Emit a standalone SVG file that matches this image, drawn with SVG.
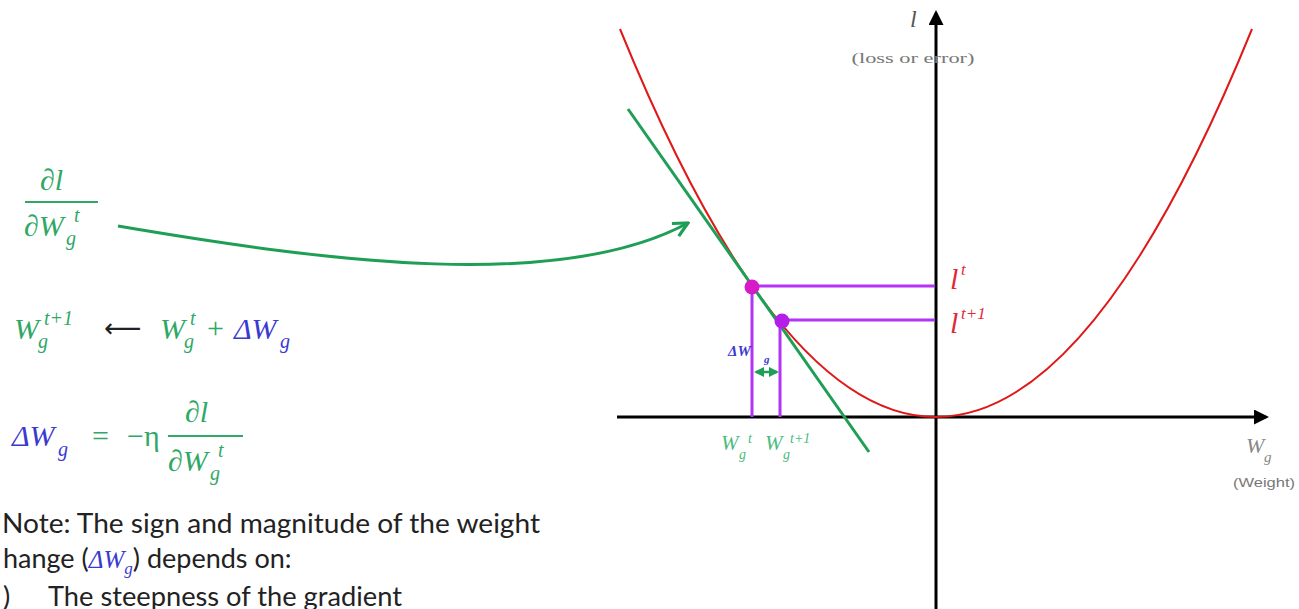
<svg xmlns="http://www.w3.org/2000/svg" width="1299" height="609" viewBox="0 0 1299 609">
<defs>
<style>
.m{font-family:"Liberation Serif","DejaVu Serif",serif;font-style:italic}
.g{fill:#2fa866}
.b{fill:#3a3ad0}
.bb{fill:#3a3ad0;font-weight:bold}
.r{fill:#e02a3a}
.ax{stroke:#000;stroke-width:3;fill:none}
.pl{stroke:#b533f5;stroke-width:3;fill:none}
.note{font-family:Lato,"Liberation Sans",sans-serif;font-size:27px;fill:#222}
</style>
<marker id="ah" viewBox="0 0 10 10" refX="8" refY="5" markerWidth="5" markerHeight="5" orient="auto"><path d="M0,0 L10,5 L0,10 Z" fill="#000"/></marker>
<marker id="ga" viewBox="0 0 10 10" refX="9" refY="5" markerWidth="6" markerHeight="6" orient="auto"><path d="M1,1 L9,5 L1,9" fill="none" stroke="#1f9e55" stroke-width="1.8"/></marker>
<marker id="gs" viewBox="0 0 10 10" refX="8" refY="5" markerWidth="4" markerHeight="4" orient="auto-start-reverse"><path d="M0,0 L10,5 L0,10 Z" fill="#1f9e55"/></marker>
</defs>
<rect width="1299" height="609" fill="#fff"/>

<g id="axes">
<line class="ax" x1="617" y1="417" x2="1266" y2="417" marker-end="url(#ah)"/>
<line class="ax" x1="936" y1="609" x2="936" y2="13" marker-end="url(#ah)"/>
<text class="m" x="910" y="27" font-size="24" fill="#555">l</text>
<text x="913" y="63" font-family="Liberation Serif,serif" font-size="15" fill="#777" text-anchor="middle" textLength="123" lengthAdjust="spacingAndGlyphs">(loss or error)</text>
<text class="m" x="1246" y="453" font-size="22" fill="#888">W</text>
<text class="m" x="1264" y="462" font-size="15" fill="#888">g</text>
<text x="1264" y="487" font-family="Liberation Sans,sans-serif" font-size="12" fill="#777" text-anchor="middle" textLength="62" lengthAdjust="spacingAndGlyphs">(Weight)</text>
</g>

<g id="curve">
<path d="M620,29 Q778,417 936,417 Q1094,417 1252,29" fill="none" stroke="#e01818" stroke-width="2"/>
</g>

<g id="tangent">
<line x1="628" y1="109" x2="869" y2="452" stroke="#1f9e55" stroke-width="3"/>
</g>

<g id="projections">
<line class="pl" x1="752" y1="287" x2="752" y2="417"/>
<line class="pl" x1="780" y1="321" x2="780" y2="417"/>
<line class="pl" x1="752" y1="286" x2="935" y2="286"/>
<line class="pl" x1="781" y1="320" x2="935" y2="320"/>
<circle cx="752" cy="287" r="7.5" fill="#d61ac8"/>
<circle cx="782" cy="321" r="7.5" fill="#b51ee8"/>
</g>

<g id="delta-label">
<text class="m bb" x="728" y="356" font-size="15">ΔW</text>
<text class="m bb" x="764" y="363" font-size="11">g</text>
<line x1="756" y1="372" x2="777" y2="372" stroke="#1f9e55" stroke-width="2.5" marker-start="url(#gs)" marker-end="url(#gs)"/>
</g>

<g id="l-labels">
<text class="m r" x="950" y="289" font-size="30">l</text>
<text class="m r" x="961" y="275" font-size="17">t</text>
<text class="m r" x="950" y="333" font-size="30">l</text>
<text class="m r" x="961" y="319" font-size="17">t+1</text>
</g>

<g id="w-labels">
<text class="m" x="721" y="450" font-size="21" fill="#4cbb7e">W</text>
<text class="m" x="739" y="459" font-size="14" fill="#4cbb7e">g</text>
<text class="m" x="748" y="443" font-size="14" fill="#4cbb7e">t</text>
<text class="m" x="765" y="450" font-size="21" fill="#4cbb7e">W</text>
<text class="m" x="783" y="459" font-size="14" fill="#4cbb7e">g</text>
<text class="m" x="790" y="443" font-size="14" fill="#4cbb7e">t+1</text>
</g>

<g id="gradient-frac">
<text class="m g" x="40" y="190" font-size="30">∂l</text>
<line x1="25" y1="202" x2="98" y2="202" stroke="#2fa866" stroke-width="2"/>
<text class="m g" x="24" y="236" font-size="30">∂W</text>
<text class="m g" x="66" y="245" font-size="20">g</text>
<text class="m g" x="74" y="222" font-size="20">t</text>
</g>

<g id="connectors">
<path d="M118,226 C330,262 560,292 688,223" fill="none" stroke="#1f9e55" stroke-width="3" marker-end="url(#ga)"/>
</g>

<g id="update-eq">
<text class="m g" x="14" y="339" font-size="30">W</text>
<text class="m g" x="38" y="348" font-size="20">g</text>
<text class="m g" x="44" y="325" font-size="20">t+1</text>
<text x="104" y="337" font-family="DejaVu Sans,sans-serif" font-size="26" fill="#222">⟵</text>
<text class="m g" x="160" y="339" font-size="30">W</text>
<text class="m g" x="184" y="348" font-size="20">g</text>
<text class="m g" x="190" y="325" font-size="20">t</text>
<text x="207" y="338" font-family="Liberation Serif,serif" font-size="30" class="g">+</text>
<text class="m b" x="234" y="339" font-size="30">ΔW</text>
<text class="m b" x="280" y="348" font-size="20">g</text>
</g>

<g id="delta-eq">
<text class="m b" x="12" y="446" font-size="30">ΔW</text>
<text class="m b" x="58" y="456" font-size="20">g</text>
<text x="92" y="446" font-family="Liberation Serif,serif" font-size="30" class="g">=</text>
<text x="127" y="446" font-family="Liberation Serif,serif" font-size="30" class="g">−η</text>
<text class="m g" x="185" y="422" font-size="30">∂l</text>
<line x1="168" y1="436" x2="243" y2="436" stroke="#2fa866" stroke-width="2"/>
<text class="m g" x="168" y="471" font-size="30">∂W</text>
<text class="m g" x="210" y="480" font-size="20">g</text>
<text class="m g" x="218" y="457" font-size="20">t</text>
</g>

<g id="note">
<text class="note" x="2" y="533" textLength="538" lengthAdjust="spacingAndGlyphs">Note: The sign and magnitude of the weight</text>
<text class="note" x="3" y="568">hange (<tspan class="m b" font-size="25">ΔW</tspan><tspan class="m b" font-size="17" dy="6">g</tspan><tspan dy="-6">) depends on:</tspan></text>
<text class="note" x="3" y="606">)</text>
<text class="note" x="48" y="606" textLength="354" lengthAdjust="spacingAndGlyphs">The steepness of the gradient</text>
</g>
</svg>
